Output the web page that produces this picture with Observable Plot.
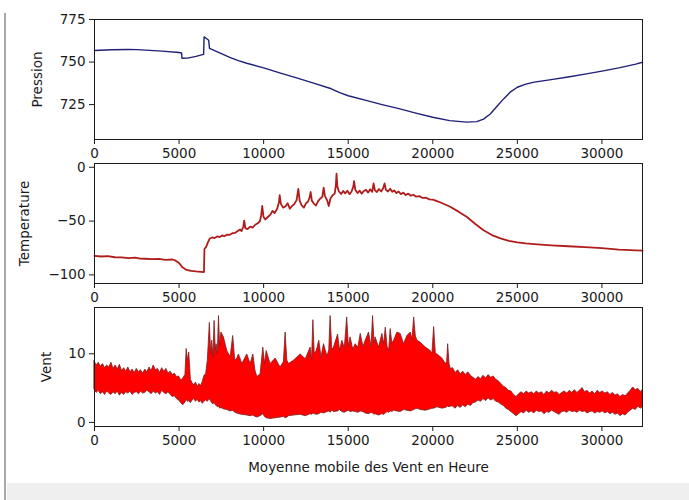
<!DOCTYPE html>
<html><head><meta charset="utf-8">
<script src="https://cdn.jsdelivr.net/npm/d3@7"></script>
<script src="https://cdn.jsdelivr.net/npm/@observablehq/plot@0.6"></script>
<style>
body{margin:0;background:#fff;}
#wrap{position:relative;width:689px;height:500px;overflow:hidden;font-family:"DejaVu Sans",sans-serif;background:#fff;}
#wrap svg{position:absolute;left:0;top:0;}
.edge{position:absolute;left:4px;top:13px;width:2px;height:487px;background:#a8a8a8;}
.band{position:absolute;left:7px;top:483px;width:682px;height:17px;background:#efefef;}
</style></head><body><div id="wrap"><div class="edge"></div><div class="band"></div></div>
<script>
// ---- data ----
const xTicks = [0, 5000, 10000, 15000, 20000, 25000, 30000];
const pressTicks = [725, 750, 775];
const tempTicks = [-100, -50, 0];
const windTicks = [0, 10];

// Pression: [x, value]
const pressPts = [[0,756.8],[1000,757.2],[2000,757.4],[2500,757.3],[3000,757.0],[4000,756.4],[5000,755.6],[5150,755.3],[5170,752.2],[5500,752.3],[6000,753.3],[6450,754.5],[6480,764.8],[6600,764.0],[6750,762.8],[6800,758.0],[7000,757.2],[7500,755.0],[8000,752.8],[8500,750.8],[9000,749.3],[10000,746.6],[11000,743.5],[12000,740.6],[13000,737.5],[14000,734.3],[14500,732.0],[15000,730.2],[16000,727.6],[17000,725.0],[18000,722.6],[19000,720.0],[20000,717.6],[21000,715.6],[22000,714.7],[22600,715.0],[23000,716.5],[23400,719.5],[23800,724.0],[24200,728.5],[24600,732.5],[25000,735.2],[25500,737.0],[26000,738.2],[27000,739.7],[28000,741.2],[29000,742.9],[30000,744.7],[31000,746.6],[32000,748.8],[32400,749.9]];

// Temperature: [x, value]
const tempPts = [[0,-82.4],[400,-82.9],[800,-82.6],[1200,-83.6],[1600,-83.8],[2000,-84.4],[2400,-83.9],[2700,-84.9],[3000,-85.0],[3400,-85.4],[3800,-85.2],[4200,-86.0],[4600,-85.7],[4800,-86.8],[5000,-89],[5200,-93],[5400,-95],[5700,-96.2],[6000,-96.8],[6300,-97.2],[6470,-97.5],[6500,-76],[6600,-74],[6700,-70],
[6800,-66.5],[6950,-65.2],[7100,-65.8],[7250,-64.3],[7400,-64.9],[7550,-63.4],[7700,-63.9],[7850,-62.5],[8000,-62.8],[8150,-61.3],[8300,-61.0],[8450,-59.4],[8600,-57.8],[8700,-59.2],[8800,-55],[8850,-49.5],[8920,-56.5],[9050,-57.5],[9200,-55.2],[9350,-56.0],[9500,-53.4],[9650,-52.0],[9780,-50.2],[9850,-45],[9920,-36],[9990,-46],[10100,-48.5],[10250,-46.2],[10400,-44.0],[10520,-40.5],[10650,-42.5],[10800,-38.5],[10900,-33],[10950,-26],[11020,-34],[11150,-37.5],[11300,-36.2],[11420,-33.5],[11550,-38.5],[11680,-36.0],[11800,-34.5],[11950,-30.5],[12050,-20],[12130,-31],[12250,-35.5],[12380,-37.5],[12500,-33.5],[12620,-32.0],[12720,-28],[12780,-23],[12850,-31],[12980,-34],[13100,-35.5],[13220,-31.5],[13350,-29.0],[13470,-27.5],[13550,-19],[13620,-26.5],[13750,-30.5],[13850,-36],[13950,-29.0],[14080,-26.0],[14200,-24.5],[14270,-17],[14310,-6],[14360,-18],[14450,-22.5],[14580,-24.8],[14700,-22.0],[14820,-24.3],[14950,-21.8],[15080,-25.0],[15200,-22.5],[15300,-18],[15350,-13],[15420,-21],[15550,-24.0],[15680,-21.8],[15800,-24.5],[15920,-22.0],[16050,-21.0],[16180,-23.5],[16300,-20.5],[16420,-22.8],[16500,-15],[16580,-21.5],[16700,-23.0],[16820,-20.2],[16950,-22.5],[17080,-19],[17150,-15],[17230,-21],[17350,-22.5],[17480,-20.0],[17600,-22.8],[17720,-21.5],[17850,-24.0],[17980,-22.5],[18120,-25.0],[18260,-23.5],[18400,-25.8],[18550,-24.5],[18700,-26.5],[18850,-25.5],[19000,-27.2],[19200,-26.8],[19400,-28.5],[19600,-28.3],[19800,-29.8],[20000,-30.0],[20250,-31.5],[20500,-33.0],
[21000,-36.5],[21500,-41],[22000,-46],[22500,-52.5],[23000,-58.5],[23500,-63],[24000,-66],[24500,-68.3],[25000,-69.8],[25500,-70.8],[26000,-71.5],[27000,-72.6],[28000,-73.4],[29000,-74.2],[30000,-75.2],[31000,-76.5],[32000,-77.2],[32400,-77.5]];

// Vent envelope: [x, low, high]
const windPts = [[0,4.8,8.9],[125,4.3,8.3],[250,4.6,8.7],[375,4.1,8.1],[500,4.4,8.5],[625,4.0,7.9],[750,4.5,8.3],[875,4.2,8.0],[1000,4.0,8.7],[1125,4.4,7.8],
[1250,4.1,8.3],[1375,4.5,7.7],[1500,3.9,8.4],[1625,4.3,7.5],[1750,4.0,7.9],[1875,4.4,7.4],[2000,4.2,8.0],[2125,4.5,7.3],[2250,4.0,7.7],[2375,4.3,7.2],
[2500,4.4,7.8],[2625,4.1,7.3],[2750,4.5,7.6],[2875,4.2,7.1],[3000,4.3,7.7],[3125,4.6,7.3],[3250,4.4,8.0],[3375,4.1,7.5],[3500,4.5,8.3],[3625,4.2,7.6],
[3750,4.4,7.8],[3875,4.0,7.2],[4000,4.6,7.9],[4125,4.3,7.4],[4250,4.1,7.8],[4375,4.4,7.1],[4500,4.0,7.4],[4625,3.7,6.9],[4750,3.8,7.1],[4875,3.4,6.6],
[5000,3.2,6.7],[5125,2.8,6.1],[5250,2.5,6.4],[5375,2.9,6.9],[5450,3.3,10.7],[5520,3.0,9.0],[5600,3.1,10.2],[5700,2.8,6.2],[5800,3.2,5.7],[5900,3.4,5.4],[6000,3.0,5.8],[6100,3.3,5.2],[6200,2.9,5.6],[6300,3.1,5.3],[6400,2.7,5.9],[6500,3.0,6.8],
[6600,3.2,7.0],[6700,3.0,9.0],[6820,3.4,14.5],[6900,3.0,10.0],[6960,2.8,11.9],[7030,2.6,9.5],[7100,2.9,14.8],[7170,2.5,10.5],[7220,2.4,11.4],[7290,2.2,10.0],[7360,2.3,15.5],[7430,2.0,11.0],[7500,2.1,13.1],[7650,1.9,12.4],[7850,1.8,10.4],[8050,1.6,9.5],[8200,1.7,12.6],[8320,1.4,9.0],[8440,1.3,9.3],[8540,1.2,9.9],[8740,1.1,8.5],[9030,1.0,9.9],[9230,0.9,8.5],[9390,1.0,9.9],[9520,0.8,7.5],[9625,0.7,6.6],[9820,0.9,7.0],[9980,1.2,10.9],[10080,0.8,8.5],[10180,0.6,10.4],[10410,0.5,8.5],[10710,0.6,9.3],[11000,0.7,8.0],[11200,0.8,8.8],[11300,0.6,13.1],[11400,0.7,9.0],[11500,0.9,8.5],[11790,1.0,9.0],[12190,1.1,9.9],[12490,0.9,9.2],[12780,1.2,10.9],[12860,1.1,9.0],[12940,1.3,14.9],[13020,1.2,10.0],[13140,1.1,10.4],[13290,1.2,11.9],[13420,1.4,9.5],[13570,1.3,11.4],[13770,1.5,9.6],[13880,1.6,10.5],[13960,1.4,15.5],[14060,1.7,10.5],[14160,1.5,10.9],[14400,1.6,12.8],[14520,1.8,10.4],[14650,1.5,11.9],[14800,1.4,10.8],[14940,1.6,15.3],[15040,1.7,11.0],[15140,1.5,12.4],[15300,1.6,10.6],[15440,1.5,11.4],[15600,1.4,10.9],[15740,1.6,12.9],[15900,1.5,11.0],[16030,1.3,11.9],[16230,1.2,13.1],[16380,1.4,11.0],[16470,1.3,15.5],[16560,1.1,11.5],[16620,1.2,12.4],[16820,1.0,10.9],[17020,1.2,12.9],[17130,1.1,11.4],[17220,1.3,13.8],[17330,1.5,11.0],[17420,1.4,10.4],[17510,1.6,13.6],[17610,1.5,11.5],[17710,1.7,11.9],[17910,1.6,13.1],[18100,1.5,12.9],[18300,1.8,11.4],[18500,1.7,12.6],[18700,1.6,13.1],[18800,1.7,12.0],[18900,1.8,15.3],[19000,1.9,12.5],[19100,2.0,11.9],[19290,1.8,11.6],[19590,1.7,10.9],[19880,1.9,10.4],[19980,2.0,10.0],[20080,2.0,13.9],[20180,2.1,10.0],[20280,2.2,9.9],[20570,2.0,9.3],[20770,2.1,8.5],[20850,2.2,8.8],[20910,2.3,11.4],[20990,2.2,8.5],[21060,2.3,7.8],
[21200,2.3,7.9],[21350,2.0,7.2],[21500,2.4,7.6],[21650,2.1,7.0],[21800,2.5,7.4],[21950,2.2,6.9],[22100,2.6,7.3],[22250,2.4,6.8],[22400,2.8,6.5],[22550,2.9,6.2],[22700,3.2,6.6],[22850,3.0,6.3],[23000,3.4,6.8],[23150,3.1,6.4],[23300,3.5,6.9],[23450,3.2,6.5],[23600,3.4,6.7],[23750,3.0,6.2],[23900,2.9,6.0],[24050,2.6,5.6],[24200,2.4,5.2],[24350,2.0,5.0],[24500,1.8,4.6],[24650,1.5,4.5],[24800,1.2,4.0],[24950,0.9,3.7],[25100,1.2,4.1],[25250,1.5,4.4],[25400,1.3,4.1],[25550,1.7,4.5],[25700,1.4,4.2],[25850,1.6,4.4],[26000,1.3,4.1],[26150,1.7,4.5],[26300,1.5,4.2],[26450,1.6,4.4],[26600,1.2,4.0],[26750,1.5,4.5],[26900,1.4,4.2],[27050,1.7,4.6],[27200,1.5,4.3],[27350,1.3,4.4],[27500,1.1,4.0],[27650,1.5,4.3],[27800,1.6,4.5],[27950,1.4,4.2],[28100,1.7,4.6],[28250,1.5,4.3],[28400,1.6,4.7],[28550,1.4,4.3],[28700,1.7,4.6],[28850,1.5,5.0],[29000,1.6,4.4],[29150,1.3,4.6],[29300,1.5,4.2],[29450,1.6,4.5],[29600,1.3,4.1],[29750,1.5,4.6],[29900,1.4,4.3],[30050,1.6,4.5],[30200,1.3,4.2],[30350,1.5,4.4],[30500,1.2,4.0],[30650,1.4,4.3],[30800,1.1,3.9],[30950,1.3,4.1],[31100,0.9,3.7],[31250,1.2,4.0],[31400,1.0,3.8],[31550,1.4,4.2],[31700,1.7,4.6],[31850,2.0,5.1],[32000,1.8,4.7],[32150,2.3,4.9],[32300,2.0,4.4],[32400,2.2,4.7]];

// ---- tables for the library ----
const press = pressPts.map(([x, v]) => ({x, v}));
const temp = tempPts.map(([x, v]) => ({x, v}));
const wind = windPts.map(([x, lo, hi]) => ({x, lo, hi}));

const ink = "#1a1a1a";
function panel({top, bottom, domain, yTicks, label, labelOffset, xLabel, marks}) {
  return Plot.plot({
    width: 689, height: 500,
    marginLeft: 94, marginRight: 47, marginTop: top, marginBottom: 500 - bottom,
    style: {fontFamily: "DejaVu Sans, sans-serif", fontSize: "13.5px", color: ink, background: "transparent", overflow: "visible"},
    x: {domain: [0, 32400]},
    y: {domain},
    marks: [
      ...marks,
      Plot.frame({stroke: ink, strokeWidth: 1}),
      Plot.axisX({ticks: xTicks, tickFormat: "d", tickSize: 5, tickPadding: 4, label: xLabel || null, labelAnchor: "center", labelArrow: "none", labelOffset: 45}),
      Plot.axisY({ticks: yTicks, tickFormat: "d", tickSize: 5, tickPadding: 4, label, labelAnchor: "center", labelArrow: "none", labelOffset})
    ]
  });
}

const wrap = document.getElementById("wrap");
wrap.appendChild(panel({
  top: 19, bottom: 139, domain: [704.5, 775], yTicks: pressTicks, label: "Pression", labelOffset: 62,
  marks: [Plot.line(press, {x: "x", y: "v", stroke: "#1f1f78", strokeWidth: 1.4})]
}));
wrap.appendChild(panel({
  top: 163, bottom: 283, domain: [-108, 3.5], yTicks: tempTicks, label: "Temperature", labelOffset: 75,
  marks: [Plot.line(temp, {x: "x", y: "v", stroke: "#b01c1c", strokeWidth: 1.8})]
}));
wrap.appendChild(panel({
  top: 307, bottom: 426, domain: [-0.6, 16.75], yTicks: windTicks, label: "Vent", labelOffset: 53,
  xLabel: "Moyenne mobile des Vent en Heure",
  marks: [Plot.areaY(wind, {x: "x", y1: "lo", y2: "hi", fill: "#ff0000", stroke: "#7a2020", strokeWidth: 0.8})]
}));
</script>
</body></html>
